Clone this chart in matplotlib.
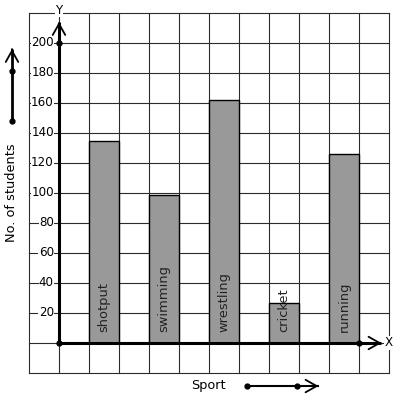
import matplotlib
matplotlib.use('Agg')
import matplotlib.pyplot as plt
import numpy as np

sports = ['shotput', 'swimming', 'wrestling', 'cricket', 'running']
students = [135, 99, 162, 27, 126]
bar_pos = [1.5, 3.5, 5.5, 7.5, 9.5]
y_ticks = [20, 40, 60, 80, 100, 120, 140, 160, 180, 200]

fig = plt.figure(figsize=(3.97, 3.99), dpi=100)
ax = fig.add_axes([0, 0, 1, 1])
ax.set_xlim(-59 / 30, 338 / 30)
ax.set_ylim(-56 / 1.5, 343 / 1.5)
ax.axis('off')

# grid paper
for gx in range(-1, 12):
    ax.plot([gx, gx], [-20, 220], color='#2b2b2b', lw=0.8, zorder=1)
for gy in range(-20, 221, 20):
    ax.plot([-1, 11], [gy, gy], color='#2b2b2b', lw=0.8, zorder=1)

# bars
ax.bar(bar_pos, students, width=1.0, color='#999999', edgecolor='black',
       linewidth=1.0, zorder=2)
for x, name in zip(bar_pos, sports):
    ax.text(x, 7, name, rotation=90, ha='center', va='bottom', fontsize=9.4,
            color='#222222', zorder=3)

head = dict(arrowstyle='->,head_length=0.8,head_width=0.45', lw=1.3,
            color='black', shrinkA=0, shrinkB=0)


def arrow_line(x0, y0, x1, y1, lw=2.2, z=4):
    ax.plot([x0, x1], [y0, y1], color='black', lw=lw, zorder=z,
            solid_capstyle='butt')
    ax.annotate('', xy=(x1, y1),
                xytext=(x1 - (x1 - x0) * 0.01, y1 - (y1 - y0) * 0.01),
                arrowprops=head, zorder=z)


# axes with arrows
arrow_line(0, 0, 0, 214)
arrow_line(0, 0, 10.75, 0)
ax.plot([0, 0, 10], [0, 200, 0], 'o', color='black', ms=3.5, zorder=5)

for t in y_ticks:
    ax.text(-0.17, t, str(t), ha='right', va='center', fontsize=8.6,
            zorder=3, bbox=dict(facecolor='white', edgecolor='none', pad=0.3))
ax.text(0, 222, 'Y', ha='center', va='center', fontsize=8.6, zorder=3,
        bbox=dict(facecolor='white', edgecolor='none', pad=0.5))
ax.text(11, 0, 'X', ha='center', va='center', fontsize=8.6, zorder=3,
        bbox=dict(facecolor='white', edgecolor='none', pad=0.5))

# side notes
ax.text(-1.57, 100, 'No. of students', rotation=90, ha='center', va='center',
        fontsize=9.3)
arrow_line(-1.567, 148, -1.567, 196, lw=2)
ax.plot([-1.567, -1.567], [148, 181.3], 'o', color='black', ms=3.5)

ax.text(4.97, -28, 'Sport', ha='center', va='center', fontsize=9.3)
arrow_line(6.27, -28.7, 8.65, -28.7, lw=1.5)
ax.plot([6.27, 7.93], [-28.7, -28.7], 'o', color='black', ms=3.5)

fig.savefig('out.png', dpi=100)
